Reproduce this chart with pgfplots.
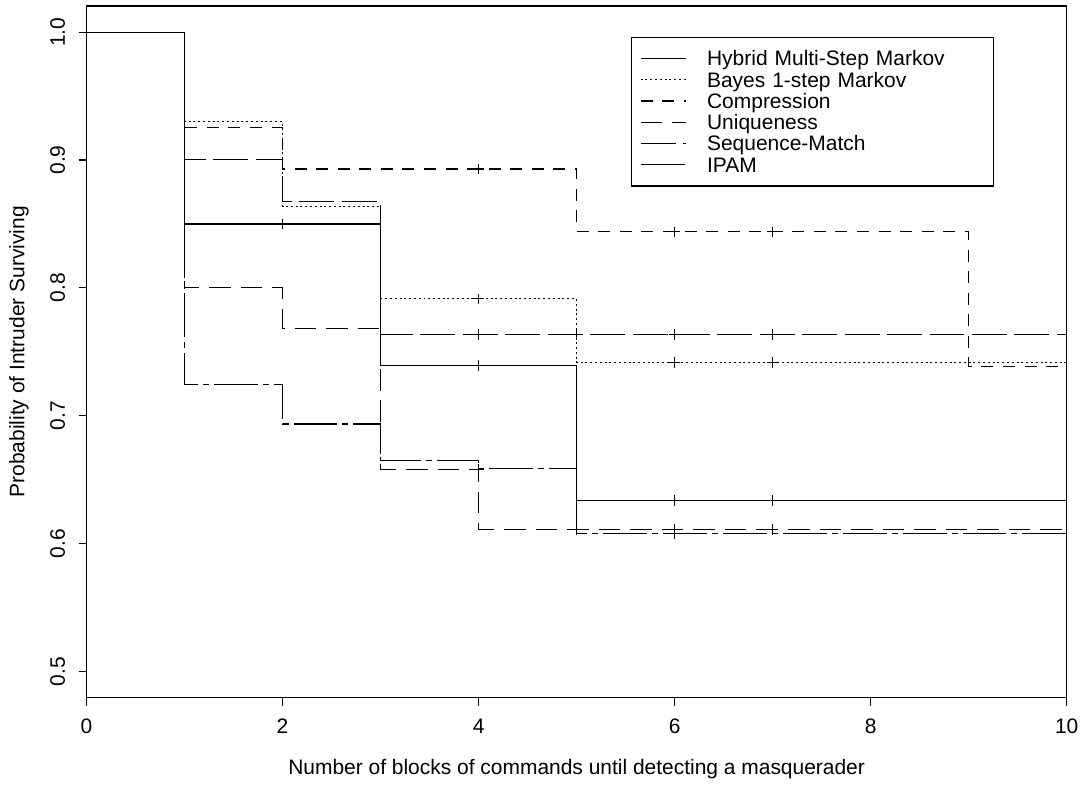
\documentclass[border=0pt]{standalone}
\usepackage{fontspec}
\setmainfont{Liberation Sans}
\usepackage{pgfplots}
\pgfplotsset{compat=1.18}
\begin{document}
\begin{tikzpicture}
\begin{axis}[
  scale only axis,
  width=491pt, height=346.5pt,
  xmin=0, xmax=10, ymin=0.4795, ymax=1.0205,
  xtick={0,2,4,6,8,10},
  xticklabels={0,2,4,6,8,10},
  ytick={0.5,0.6,0.7,0.8,0.9,1.0},
  yticklabels={0.5,0.6,0.7,0.8,0.9,1.0},
  tick pos=left,
  tick align=outside,
  major tick length=4pt,
  axis line style={line width=0.6pt},
  every tick/.style={black, line width=0.6pt},
  font=\fontsize{10.5}{12.6}\selectfont,
  /pgf/number format/assume math mode=true,
  yticklabel style={rotate=90, anchor=south, inner ysep=6.5pt},
  xticklabel style={yshift=-3pt},
  xlabel={Number of blocks of commands until detecting a masquerader},
  ylabel={Probability of Intruder Surviving},
  every axis x label/.style={at={(axis description cs:0.5,-0.103)}, anchor=center},
  every axis y label/.style={at={(axis description cs:-0.069,0.5)}, rotate=90, anchor=center},
  legend style={at={(axis cs:9.257,0.99656)}, anchor=north east, draw=black, line width=0.6pt,
    inner xsep=4.35pt, inner ysep=5.3pt, row sep=0pt,
    cells={anchor=west},
    nodes={inner sep=0pt, text height=9.075pt, text depth=1.575pt, text width=139pt, font=\fontsize{10.5}{12.6}\selectfont},
    /tikz/every odd column/.style={column sep=10.5pt}},
  legend image code/.code={\draw[#1] (0pt,0pt) -- (22.5pt,0pt);},
]
% Hybrid Multi-Step Markov
\addplot[const plot, black, line width=0.6pt] coordinates {(0,1)(1,0.85)(3,0.739)(5,0.634)(10,0.634)(10,0)};
\addlegendentry{Hybrid Multi-Step Markov}
% Bayes 1-step Markov
\addplot[const plot, black, line width=0.55pt, dash pattern=on 1pt off 1.4pt] coordinates {(0,1)(1,0.930)(2,0.8637)(3,0.7914)(5,0.7419)(10,0.7419)};
\addlegendentry{Bayes 1-step Markov}
% Compression
\addplot[const plot, black, line width=0.6pt, dash pattern=on 6pt off 4.8pt] coordinates {(0,1)(1,0.9255)(2,0.893)(5,0.8438)(9,0.7388)(10,0.7388)};
\addlegendentry{Compression}
% Uniqueness
\addplot[const plot, black, line width=0.6pt, dash pattern=on 10.8pt off 5pt] coordinates {(0,1)(1,0.800)(2,0.768)(3,0.658)(4,0.6112)(10,0.6112)};
\addlegendentry{Uniqueness}
% Sequence-Match
\addplot[const plot, black, line width=0.6pt, dash pattern=on 17.5pt off 3.75pt] coordinates {(0,1)(1,0.9002)(2,0.8677)(3,0.7635)(10,0.7635)};
\addlegendentry{Sequence-Match}
% IPAM
\addplot[const plot, black, line width=0.6pt, dash pattern=on 22pt off 2.5pt on 3pt off 2.5pt] coordinates {(0,1)(1,0.7247)(2,0.6935)(3,0.6648)(4,0.659)(5,0.6078)(10,0.6078)};
\addlegendentry{IPAM}
% censoring marks
\addplot[only marks, mark=+, mark size=2.7pt, black, line width=0.6pt, forget plot] coordinates {
 (2,0.85)(4,0.739)(6,0.634)(7,0.634)
 (4,0.7914)(6,0.7419)(7,0.7419)
 (4,0.893)(6,0.8438)(7,0.8438)
 (4,0.658)(5,0.6112)(6,0.6112)(7,0.6112)
 (4,0.7635)(5,0.7635)(6,0.7635)(7,0.7635)
 (6,0.6078)};
\coordinate (bl) at (rel axis cs:0,0);
\end{axis}
\path (bl) ++(-43.35pt,-42pt) rectangle ++(542.5pt,391.5pt);
\end{tikzpicture}
\end{document}
